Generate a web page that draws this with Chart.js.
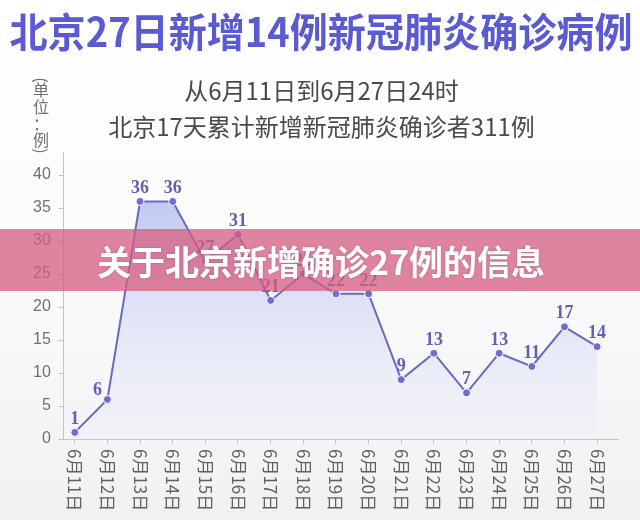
<!DOCTYPE html>
<html>
<head>
<meta charset="utf-8">
<script src="https://cdn.jsdelivr.net/npm/chart.js@4.4.0/dist/chart.umd.min.js"></script>
<style>
  html, body { margin: 0; padding: 0; background: #fff; }
</style>
</head>
<body>
<canvas id="lineChart" width="640" height="520"></canvas>
<script>
// data
var days = ["6月11日","6月12日","6月13日","6月14日","6月15日","6月16日","6月17日","6月18日","6月19日",
            "6月20日","6月21日","6月22日","6月23日","6月24日","6月25日","6月26日","6月27日"];
var cases = [1, 6, 36, 36, 27, 31, 21, 25, 22, 22, 9, 13, 7, 13, 11, 17, 14];
var yTicks = [0, 5, 10, 15, 20, 25, 30, 35, 40];
var unitChars = ["(", "单", "位", "：", "例", ")"];
var mainTitle = "北京27日新增14例新冠肺炎确诊病例";
var subLines = ["从6月11日到6月27日24时", "北京17天累计新增新冠肺炎确诊者311例"];
var bannerText = "关于北京新增确诊27例的信息";

var cjk = '"Noto Sans CJK SC", "Noto Sans", sans-serif';

// background, big title, labels and the pink banner on top
var decor = {
  id: 'decor',
  beforeDraw: function(chart) {
    var c = chart.ctx;
    var g = c.createLinearGradient(0, 0, 0, chart.height);
    g.addColorStop(0, '#ffffff');
    g.addColorStop(0.5, '#fbfbfc');
    g.addColorStop(1, '#f1f1f4');
    c.save();
    c.fillStyle = g;
    c.fillRect(0, 0, chart.width, chart.height);
    // main title is wider than the layout box, so it is drawn here
    c.font = 'bold 40px ' + cjk;
    c.fillStyle = '#5a5ad2';
    c.textAlign = 'center';
    c.textBaseline = 'middle';
    c.fillText(mainTitle, 321, 32, 623);
    c.restore();
  },
  afterDatasetsDraw: function(chart) {
    var c = chart.ctx;
    var meta = chart.getDatasetMeta(0);
    c.save();
    c.font = 'bold 18px "Liberation Serif", "DejaVu Serif", serif';
    c.fillStyle = '#6262b4';
    c.textAlign = 'center';
    c.textBaseline = 'middle';
    meta.data.forEach(function(pt, i) {
      var dx = 0, dy = -13;
      // steep rise right after the point: put the number to the upper left
      if (i < cases.length - 1 && cases[i + 1] - cases[i] > 15) { dx = -10; dy = -9; }
      c.fillText(String(cases[i]), pt.x + dx, pt.y + dy);
    });
    c.restore();
  },
  afterDraw: function(chart) {
    var c = chart.ctx;
    var xs = chart.scales.x;
    var area = chart.chartArea;
    c.save();
    // rotated day labels, reading top to bottom
    c.font = '17px ' + cjk;
    c.fillStyle = '#606060';
    c.textAlign = 'left';
    c.textBaseline = 'middle';
    days.forEach(function(d, i) {
      c.save();
      c.translate(xs.getPixelForValue(i), area.bottom + 10);
      c.rotate(Math.PI / 2);
      c.fillText(d, 0, 0);
      c.restore();
    });
    // vertical unit label
    c.font = '16px ' + cjk;
    c.fillStyle = '#707070';
    c.textAlign = 'center';
    var ys = [80, 90, 107, 124, 140, 151];
    unitChars.forEach(function(ch, i) {
      c.save();
      c.translate(41, ys[i]);
      if (ch === "(" || ch === ")") c.rotate(Math.PI / 2);
      c.fillText(ch, 0, 0);
      c.restore();
    });
    // banner
    c.fillStyle = 'rgba(214, 92, 128, 0.75)';
    c.fillRect(0, 229, chart.width, 62);
    c.font = 'bold 34px ' + cjk;
    c.fillStyle = '#ffffff';
    c.shadowColor = 'rgba(0,0,0,0.18)';
    c.shadowBlur = 3;
    c.fillText(bannerText, 321, 262);
    c.restore();
  }
};

var ctxL = document.getElementById("lineChart").getContext('2d');
var myLineChart = new Chart(ctxL, {
  type: 'line',
  data: {
    datasets: [{
      data: cases.map(function(v, i) { return { x: i, y: v }; }),
      borderColor: '#6a6ac0',
      borderWidth: 2,
      tension: 0,
      pointRadius: 4,
      pointBackgroundColor: '#6e6ed2',
      pointBorderColor: '#ffffff',
      pointBorderWidth: 1,
      fill: 'origin',
      backgroundColor: function(context) {
        var area = context.chart.chartArea;
        if (!area) return 'rgba(190,198,240,0.5)';
        var g = context.chart.ctx.createLinearGradient(0, area.top + 40, 0, area.bottom);
        g.addColorStop(0, 'rgba(178,188,238,0.85)');
        g.addColorStop(1, 'rgba(228,232,248,0.2)');
        return g;
      }
    }]
  },
  options: {
    responsive: false,
    animation: false,
    layout: { padding: { left: 25, right: 22, top: 0, bottom: 76 } },
    scales: {
      x: {
        type: 'linear',
        min: -0.336,
        max: 16.64,
        afterBuildTicks: function(axis) {
          axis.ticks = days.map(function(d, i) { return { value: i }; });
        },
        ticks: { display: false },
        grid: { drawOnChartArea: false, tickLength: 5, color: '#c4c4c4' },
        border: { color: '#c4c4c4' }
      },
      y: {
        min: 0,
        max: 43.5,
        afterBuildTicks: function(axis) {
          axis.ticks = yTicks.map(function(v) { return { value: v }; });
        },
        ticks: { color: '#707070', padding: 8, font: { family: '"Liberation Sans", sans-serif', size: 16 } },
        grid: { drawOnChartArea: false, tickLength: 5, color: '#bdbdbd' },
        border: { color: '#c4c4c4' }
      }
    },
    plugins: {
      legend: { display: false },
      tooltip: { enabled: false },
      title: { display: false },
      subtitle: {
        display: true,
        text: subLines,
        color: '#4a4a4a',
        font: { family: cjk, size: 24, lineHeight: 1.5 },
        padding: { top: 73, bottom: 7 }
      }
    }
  },
  plugins: [decor]
});
</script>
</body>
</html>
